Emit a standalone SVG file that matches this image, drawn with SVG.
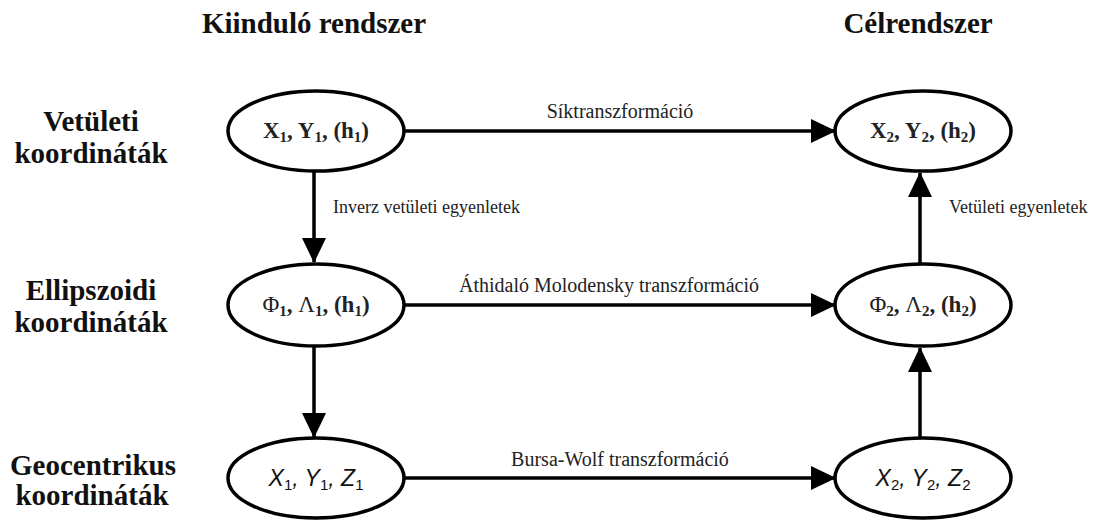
<svg xmlns="http://www.w3.org/2000/svg" width="1094" height="522" viewBox="0 0 1094 522">
<defs>
<marker id="ah" markerUnits="userSpaceOnUse" markerWidth="26" markerHeight="26" viewBox="0 0 26 26" refX="24" refY="13" orient="auto">
<path d="M0,1 L25,13 L0,25 Z" fill="#000"/>
</marker>
<style>
.hdr{font-family:"Liberation Serif",serif;font-weight:bold;font-size:29px;fill:#111;text-anchor:middle}
.node ellipse{fill:#fff;stroke:#000;stroke-width:3.5}
.nt{font-family:"Liberation Serif",serif;font-weight:bold;font-size:23px;fill:#222;text-anchor:middle}
.ns{font-family:"Liberation Sans",sans-serif;font-style:italic;font-size:23px;fill:#111;text-anchor:middle}
.conn line{stroke:#000;stroke-width:3.5;marker-end:url(#ah)}
.lbl{font-family:"Liberation Serif",serif;font-size:20px;fill:#222;text-anchor:middle}
.vlbl{font-family:"Liberation Serif",serif;font-size:18px;fill:#222}
.sub{font-size:15px}
</style>
</defs>
<rect width="1094" height="522" fill="#fff"/>
<g id="headers">
<text class="hdr" x="314" y="33">Kiinduló rendszer</text>
<text class="hdr" x="918" y="33">Célrendszer</text>
<text class="hdr" x="91" y="131">Vetületi</text>
<text class="hdr" x="91" y="163">koordináták</text>
<text class="hdr" x="91" y="300">Ellipszoidi</text>
<text class="hdr" x="91" y="332">koordináták</text>
<text class="hdr" x="93" y="475">Geocentrikus</text>
<text class="hdr" x="92" y="505">koordináták</text>
</g>
<g class="conn" id="connectors">
<line x1="405" y1="131" x2="835" y2="131"/>
<line x1="405" y1="305" x2="835" y2="305"/>
<line x1="405" y1="478" x2="835" y2="478"/>
<line x1="314" y1="172" x2="314" y2="262"/>
<line x1="314" y1="347" x2="314" y2="437"/>
<line x1="920" y1="263" x2="920" y2="173"/>
<line x1="920" y1="437" x2="920" y2="348"/>
<text class="lbl" x="620" y="118">Síktranszformáció</text>
<text class="lbl" x="609" y="292">Áthidaló Molodensky transzformáció</text>
<text class="lbl" x="620" y="466">Bursa-Wolf transzformáció</text>
<text class="vlbl" x="333" y="213">Inverz vetületi egyenletek</text>
<text class="vlbl" x="949" y="213">Vetületi egyenletek</text>
</g>
<g class="node" id="n-xy1">
<ellipse cx="316" cy="131" rx="88" ry="40"/>
<text class="nt" x="316" y="138">X<tspan class="sub" dy="4">1</tspan><tspan dy="-4">, Y</tspan><tspan class="sub" dy="4">1</tspan><tspan dy="-4">, (h</tspan><tspan class="sub" dy="4">1</tspan><tspan dy="-4">)</tspan></text>
</g>
<g class="node" id="n-xy2">
<ellipse cx="923" cy="131" rx="88" ry="40"/>
<text class="nt" x="923" y="138">X<tspan class="sub" dy="4">2</tspan><tspan dy="-4">, Y</tspan><tspan class="sub" dy="4">2</tspan><tspan dy="-4">, (h</tspan><tspan class="sub" dy="4">2</tspan><tspan dy="-4">)</tspan></text>
</g>
<g class="node" id="n-pl1">
<ellipse cx="316" cy="305" rx="88" ry="41"/>
<text class="nt" x="316" y="312"><tspan font-weight="normal">Φ</tspan><tspan class="sub" dy="4">1</tspan><tspan dy="-4">, </tspan><tspan font-weight="normal">Λ</tspan><tspan class="sub" dy="4">1</tspan><tspan dy="-4">, (h</tspan><tspan class="sub" dy="4">1</tspan><tspan dy="-4">)</tspan></text>
</g>
<g class="node" id="n-pl2">
<ellipse cx="923" cy="305" rx="88" ry="41"/>
<text class="nt" x="923" y="312"><tspan font-weight="normal">Φ</tspan><tspan class="sub" dy="4">2</tspan><tspan dy="-4">, </tspan><tspan font-weight="normal">Λ</tspan><tspan class="sub" dy="4">2</tspan><tspan dy="-4">, (h</tspan><tspan class="sub" dy="4">2</tspan><tspan dy="-4">)</tspan></text>
</g>
<g class="node" id="n-xyz1">
<ellipse cx="316" cy="478" rx="88" ry="40"/>
<text class="ns" x="316" y="486">X<tspan class="sub" font-style="normal" dy="4">1</tspan><tspan dy="-4">, Y</tspan><tspan class="sub" font-style="normal" dy="4">1</tspan><tspan dy="-4">, Z</tspan><tspan class="sub" font-style="normal" dy="4">1</tspan></text>
</g>
<g class="node" id="n-xyz2">
<ellipse cx="923" cy="478" rx="88" ry="40"/>
<text class="ns" x="923" y="486">X<tspan class="sub" font-style="normal" dy="4">2</tspan><tspan dy="-4">, Y</tspan><tspan class="sub" font-style="normal" dy="4">2</tspan><tspan dy="-4">, Z</tspan><tspan class="sub" font-style="normal" dy="4">2</tspan></text>
</g>
</svg>
